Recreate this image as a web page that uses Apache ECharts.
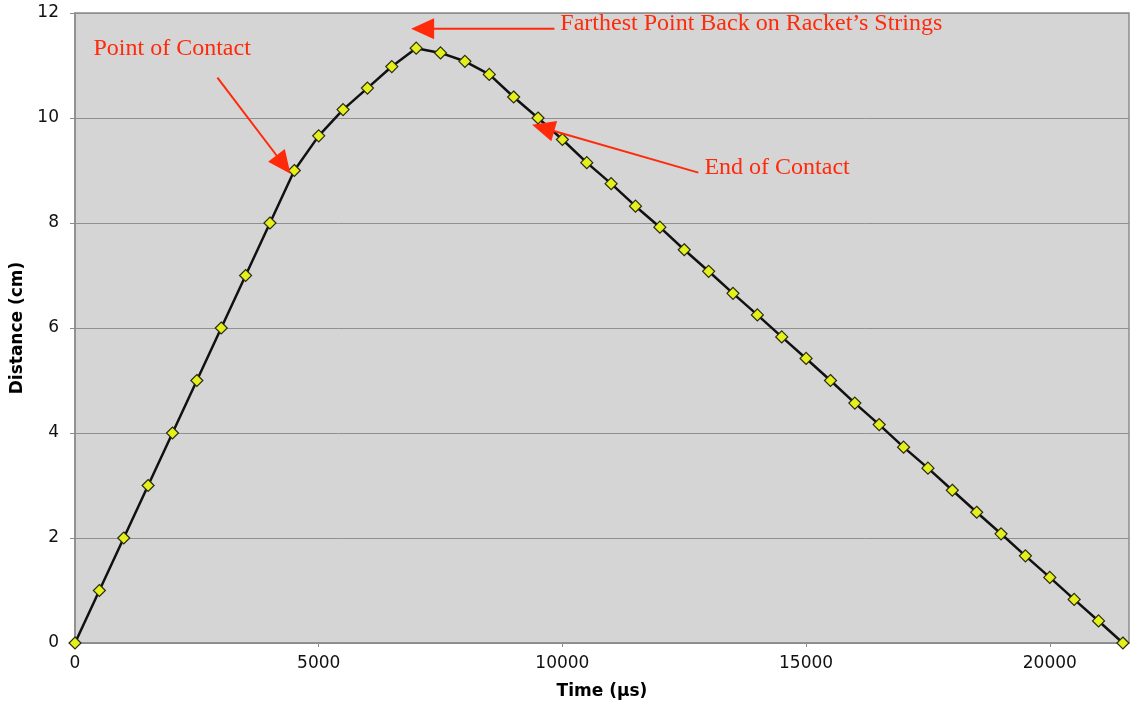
<!DOCTYPE html>
<html>
<head>
<meta charset="utf-8">
<script src="https://cdn.jsdelivr.net/npm/echarts@6/dist/echarts.min.js"></script>
<style>
html,body{margin:0;padding:0;background:#fff;}
#chart{width:1138px;height:708px;}
</style>
</head>
<body>
<div id="chart"></div>
<script>
// ---- data ----
var times = [0,500,1000,1500,2000,2500,3000,3500,4000,4500,5000,5500,6000,6500,7000,7500,8000,8500,9000,9500,
  10000,10500,11000,11500,12000,12500,13000,13500,14000,14500,15000,15500,16000,16500,17000,17500,18000,18500,
  19000,19500,20000,20500,21000,21500];
var distance = [0,1,2,3,4,5,6,7,8,9,9.66,10.16,10.57,10.98,11.33,11.24,11.08,10.83,10.40,10.0,
  9.59,9.15,8.75,8.32,7.92,7.49,7.08,6.66,6.25,5.83,5.42,5.0,4.57,4.16,3.73,3.33,2.91,2.49,
  2.08,1.66,1.25,0.83,0.42,0];
var xTicks = [0,5000,10000,15000,20000];
var yTicks = [0,2,4,6,8,10,12];
// annotations in data coordinates: text anchor, arrow start, arrow tip
var annotations = [
  {text:'Point of Contact', at:[380,11.32], from:[2922,10.77], to:[4419,8.94]},
  {text:'Farthest Point Back on Racket\u2019s Strings', at:[9958,11.80], from:[9837,11.70], to:[6896,11.70]},
  {text:'End of Contact', at:[12914,9.05], from:[12790,8.96], to:[9378,9.87]}
];

var points = times.map(function(t,i){return [t,distance[i]];});
var chart = echarts.init(document.getElementById('chart'));
var red = '#ff2a0a';
function plain(v){return String(v);}

chart.setOption({
  animation:false,
  grid:{left:75, right:9, top:13, bottom:65, show:true, backgroundColor:'#d5d5d5', borderColor:'#8c8c8c', borderWidth:1.5},
  xAxis:{
    type:'value', min:0, max:21625,
    name:'Time (\u00b5s)', nameLocation:'middle', nameGap:40,
    nameTextStyle:{fontFamily:'DejaVu Sans', fontSize:17, fontWeight:'bold', color:'#000'},
    axisLine:{show:true, lineStyle:{color:'#8c8c8c', width:1.5}},
    axisTick:{show:true, length:4, lineStyle:{color:'#8c8c8c'}, customValues:xTicks},
    axisLabel:{margin:12, customValues:xTicks, formatter:plain, fontFamily:'DejaVu Sans', fontSize:17, color:'#111'},
    splitLine:{show:false}
  },
  yAxis:{
    type:'value', min:0, max:12, interval:2,
    name:'Distance (cm)', nameLocation:'middle', nameGap:47,
    nameTextStyle:{fontFamily:'DejaVu Sans', fontSize:17, fontWeight:'bold', color:'#000'},
    axisLine:{show:true, lineStyle:{color:'#8c8c8c', width:1.5}},
    axisTick:{show:true, length:5, lineStyle:{color:'#8c8c8c'}, customValues:yTicks},
    axisLabel:{margin:16, customValues:yTicks, formatter:plain, fontFamily:'DejaVu Sans', fontSize:17, color:'#111'},
    splitLine:{show:true, lineStyle:{color:'#8f8f8f', width:1}}
  },
  series:[{
    type:'line', data:points,
    symbol:'diamond', symbolSize:12, showAllSymbol:true,
    lineStyle:{color:'#111', width:2.5},
    itemStyle:{color:'#e3f01c', borderColor:'#2a2a10', borderWidth:1.2},
    z:3
  }]
});

function build(){
  var g = [];
  annotations.forEach(function(a){
    var p = chart.convertToPixel({gridIndex:0}, a.at);
    var s = chart.convertToPixel({gridIndex:0}, a.from);
    var t = chart.convertToPixel({gridIndex:0}, a.to);
    var dx = t[0]-s[0], dy = t[1]-s[1], len = Math.sqrt(dx*dx+dy*dy);
    var ux = dx/len, uy = dy/len, nx = -uy, ny = ux;
    var L = 23, W = 10.5;
    var bx = t[0]-L*ux, by = t[1]-L*uy;
    g.push({type:'line', shape:{x1:s[0], y1:s[1], x2:bx+ux*4, y2:by+uy*4}, style:{stroke:red, lineWidth:2}, z:10});
    g.push({type:'polygon', shape:{points:[[t[0],t[1]],[bx+W*nx,by+W*ny],[bx-W*nx,by-W*ny]]}, style:{fill:red}, z:10});
    g.push({type:'text', x:p[0], y:p[1], style:{text:a.text, fill:red, font:'24px "Liberation Serif"', textVerticalAlign:'middle', textAlign:'left'}, z:10});
  });
  chart.setOption({graphic:g});
}
build();
</script>
</body>
</html>
